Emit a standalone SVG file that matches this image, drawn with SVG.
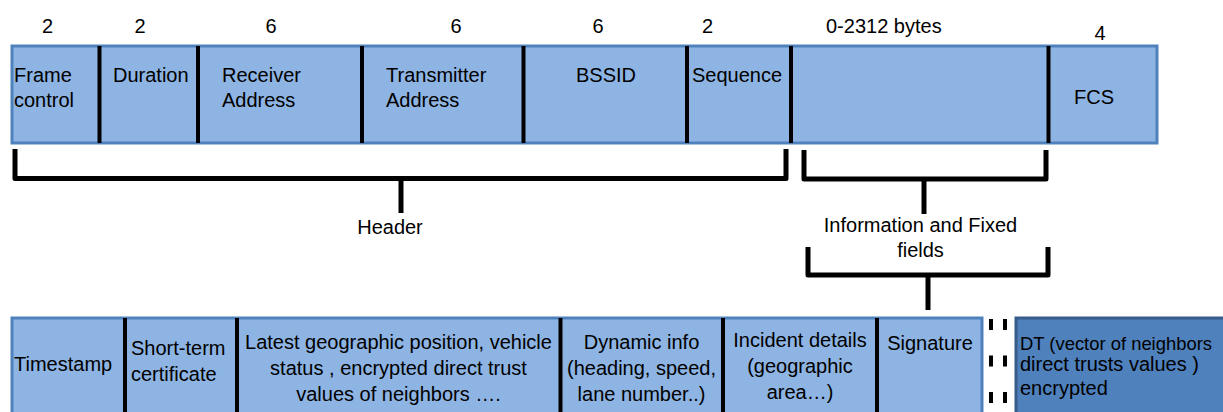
<svg xmlns="http://www.w3.org/2000/svg" width="1223" height="412" viewBox="0 0 1223 412">
<style>
  text { font-family: "Liberation Sans", Arial, sans-serif; font-size: 20px; fill: #000; }
  .mid { text-anchor: middle; }
  .box { fill: #8EB4E3; stroke: #4F81BD; stroke-width: 3; }
  .dark { fill: #4F81BD; stroke: #385D8A; stroke-width: 3; }
  .div { stroke: #000; stroke-width: 4; fill: none; }
  .br { stroke: #000; stroke-width: 5; fill: none; stroke-linejoin: round; }
  .dash { stroke: #000; stroke-width: 4; stroke-dasharray: 11 25.5; fill: none; }
</style>
<rect width="1223" height="412" fill="#fff"/>

<g id="byte-sizes">
  <text class="mid" x="47.5" y="33">2</text>
  <text class="mid" x="140" y="33">2</text>
  <text class="mid" x="271" y="33">6</text>
  <text class="mid" x="456" y="33">6</text>
  <text class="mid" x="598" y="33">6</text>
  <text class="mid" x="707.5" y="33">2</text>
  <text x="826" y="33">0-2312 bytes</text>
  <text class="mid" x="1100" y="40">4</text>
</g>

<g id="mac-frame">
  <rect class="box" x="12" y="46" width="1145" height="97"/>
  <path class="div" d="M99.5,46V143 M198,46V143 M362,46V143 M523.5,46V143 M687,46V143 M791,46V143 M1048.5,46V143"/>
</g>
<g id="frame-control"><text x="14" y="82">Frame</text><text x="14" y="107">control</text></g>
<g id="duration"><text x="113" y="82">Duration</text></g>
<g id="receiver-address"><text x="222" y="82">Receiver</text><text x="222" y="107">Address</text></g>
<g id="transmitter-address"><text x="386" y="82">Transmitter</text><text x="386" y="107">Address</text></g>
<g id="bssid"><text class="mid" x="606" y="82">BSSID</text></g>
<g id="sequence"><text x="692" y="82">Sequence</text></g>
<g id="fcs"><text x="1074" y="104">FCS</text></g>

<g id="connectors">
  <path class="br" d="M15,149V178.5H786V149"/>
  <path class="br" d="M401,178.5V213"/>
  <path class="br" d="M804,150V179H1046V150"/>
  <path class="br" d="M924,179V214"/>
  <path class="br" d="M808,247V275H1048V247"/>
  <path class="br" d="M928,275V310"/>
</g>

<g id="header-label"><text class="mid" x="390" y="234">Header</text></g>
<g id="info-label">
  <text class="mid" x="920.5" y="232">Information and Fixed</text>
  <text class="mid" x="920.5" y="257">fields</text>
</g>

<g id="payload">
  <rect class="box" x="12" y="318" width="970" height="120"/>
  <path class="div" d="M125,318V412 M237,318V412 M560.5,318V412 M723,318V412 M877,318V412"/>
</g>
<g id="timestamp"><text x="14" y="371">Timestamp</text></g>
<g id="certificate"><text x="131" y="355">Short-term</text><text x="131" y="381">certificate</text></g>
<g id="position">
  <text class="mid" x="398.5" y="349">Latest geographic position, vehicle</text>
  <text class="mid" x="398.5" y="375">status , encrypted direct trust</text>
  <text class="mid" x="398.5" y="401">values of neighbors ….</text>
</g>
<g id="dynamic-info">
  <text class="mid" x="641.5" y="349">Dynamic info</text>
  <text class="mid" x="641.5" y="375">(heading, speed,</text>
  <text class="mid" x="641.5" y="401">lane number..)</text>
</g>
<g id="incident">
  <text class="mid" x="800" y="347">Incident details</text>
  <text class="mid" x="800" y="373">(geographic</text>
  <text class="mid" x="800" y="399">area…)</text>
</g>
<g id="signature"><text class="mid" x="930" y="350">Signature</text></g>

<g id="separator">
  <path class="dash" d="M991,319V412 M1005,319V412"/>
</g>

<g id="dt">
  <rect class="dark" x="1016" y="318" width="230" height="120"/>
  <text x="1020" y="350" style="font-size:19px" textLength="192" lengthAdjust="spacingAndGlyphs">DT (vector of neighbors</text>
  <text x="1020" y="371">direct trusts values )</text>
  <text x="1020" y="395">encrypted</text>
</g>
</svg>
